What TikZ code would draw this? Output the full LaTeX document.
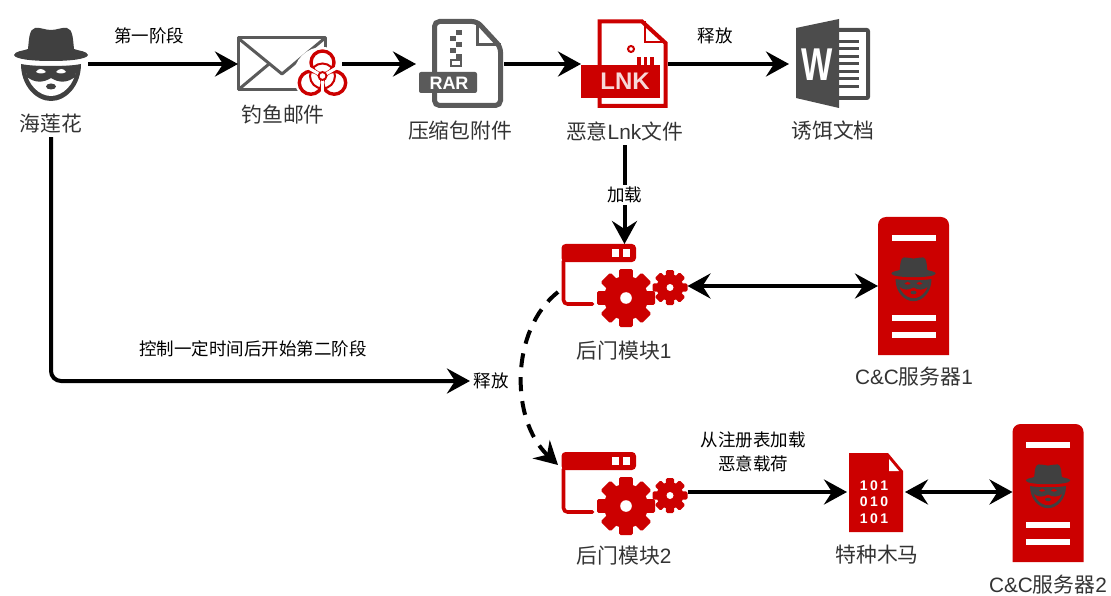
\documentclass[tikz,border=0pt]{standalone}
\usepackage{fontspec}
\usetikzlibrary{arrows.meta}
\setmainfont{Liberation Sans}
\newfontfamily\cjk{Noto Sans CJK SC}
\newfontfamily\codefont[LetterSpace=18]{Liberation Sans}
\definecolor{iconred}{HTML}{CC0000}
\definecolor{icongrey}{HTML}{5A5A5A}
\definecolor{spygrey}{HTML}{404040}
\definecolor{textgrey}{HTML}{333333}
\tikzset{
    tipbig/.tip={Stealth[length=23pt,width=25pt,inset=8pt]},
    flow/.style={line width=4pt,-tipbig},
    flowboth/.style={line width=4pt,tipbig-tipbig},
    iconbox/.style n args={2}{inner sep=0pt,outer sep=0pt,minimum width=#1,minimum height=#2},
    bigtext/.style={text=textgrey,font=\fontsize{20.8}{25}\selectfont\cjk},
    smalltext/.style={text=black,font=\fontsize{17.5}{24}\selectfont\cjk,align=center},
    pics/spyicon/.style={code={
        \fill[spygrey] (-37,-9) .. controls (-36,-13) and (-28,-13) .. (-23,-15) .. controls (-22,-24) and (-22,-35) .. (-16,-36) .. controls (-11,-37) and (-6,-34) .. (0,-34) .. controls (6,-34) and (11,-37) .. (16,-36) .. controls (22,-35) and (22,-24) .. (23,-15) .. controls (28,-13) and (36,-13) .. (37,-9) .. controls (36,-5) and (20,-3) .. (0,-3) .. controls (-20,-3) and (-36,-5) .. (-37,-9) -- cycle;
        \fill[spygrey] (-30,0) .. controls (-30,22) and (-15,37) .. (0,37) .. controls (15,37) and (30,22) .. (30,0) .. controls (15,3) and (-15,3) .. (-30,0) -- cycle;
        \fill[#1] (-25,5) .. controls (-24,20) and (-12,32) .. (0,32) .. controls (12,32) and (24,20) .. (25,5) -- cycle;
        \fill[spygrey] (-26,2) -- (26,2) -- (24,13) .. controls (16,19) and (8,19) .. (0,14) .. controls (-8,19) and (-16,19) .. (-24,13) -- cycle;
        \fill[#1] (-15,8) .. controls (-13,4) and (-8,4) .. (-5,8) .. controls (-8,10) and (-12,10) .. (-15,8) -- cycle;
        \fill[#1] (15,8) .. controls (13,4) and (8,4) .. (5,8) .. controls (8,10) and (12,10) .. (15,8) -- cycle;
        \fill[spygrey] (0,22.5) ellipse (5 and 3);
    }},
    pics/gearicon/.style={code={
        \foreach \a in {0,45,...,315}
            \fill[iconred,rotate=\a,rounded corners=1.5pt] (-0.24*#1,-#1) rectangle (0.24*#1,0);
        \fill[iconred] (0,0) circle (0.76*#1);
        \fill[white] (0,0) circle (0.2*#1);
    }},
    pics/dooricon/.style={code={
        \fill[iconred,rounded corners=4pt] (-63,-24) -- (-63,-42) -- (11.5,-42) -- (11.5,-24) -- cycle;
        \fill[white] (-13,-37) rectangle (-6,-29);
        \fill[white] (-2,-37) rectangle (5.5,-29);
        \draw[iconred,line width=3.6pt,rounded corners=4pt,line cap=round] (-61,-25) -- (-61,18) -- (-32,18);
        \pic at (1.5,12) {gearicon=29};
        \pic at (45.5,1.5) {gearicon=17.5};
    }},
    pics/servericon/.style={code={
        \fill[iconred,rounded corners=8pt] (-35.5,69) [sharp corners] -- (35.5,69) [rounded corners=8pt] -- (35.5,-69) -- (-35.5,-69) [sharp corners] -- (-35.5,69) -- cycle;
        \foreach \y in {-48,32,49}
            \fill[white] (-22,\y-3) rectangle (22,\y+3);
        \pic[scale=.6] at (0,-7) {spyicon=iconred};
    }},
}
\begin{document}
\begin{tikzpicture}[x=1pt,y=-1pt]
    \useasboundingbox (0,0) rectangle (1111,596);

    \node[iconbox={74pt}{74pt}] (hacker) at (51,64) {};
    \node[iconbox={104pt}{70pt}] (mail) at (290,64) {};
    \node[iconbox={88pt}{88pt}] (rar) at (460,64) {};
    \node[iconbox={87pt}{88pt}] (lnk) at (624.5,64) {};
    \node[iconbox={82pt}{88pt}] (word) at (830,64) {};
    \node[iconbox={126pt}{84pt}] (door1) at (624.5,286) {};
    \node[iconbox={126pt}{84pt}] (door2) at (624.5,492) {};
    \node[iconbox={71pt}{138pt}] (server1) at (913.5,286) {};
    \node[iconbox={71pt}{138pt}] (server2) at (1048,492) {};
    \node[iconbox={58pt}{80pt}] (trojan) at (876,492) {};

    \node[bigtext] (hackerlabel) at (51,124) {海莲花};
    \node[bigtext] (maillabel) at (283,115) {钓鱼邮件};
    \node[bigtext] (rarlabel) at (460,131) {压缩包附件};
    \node[bigtext] (lnklabel) at (624.5,132) {恶意{\fontspec{Liberation Sans}Lnk}文件};
    \node[bigtext] (wordlabel) at (833,131) {诱饵文档};
    \node[bigtext] (door1label) at (624,351) {后门模块{\fontspec{Liberation Sans}1}};
    \node[bigtext] (door2label) at (624,556) {后门模块{\fontspec{Liberation Sans}2}};
    \node[bigtext] (server1label) at (914,377) {{\fontspec{Liberation Sans}C\&C}服务器{\fontspec{Liberation Sans}1}};
    \node[bigtext] (server2label) at (1048,585) {{\fontspec{Liberation Sans}C\&C}服务器{\fontspec{Liberation Sans}2}};
    \node[bigtext] (trojanlabel) at (877,555) {特种木马};

    \pic at (hacker) {spyicon=white};

    \draw[icongrey,line width=3pt,line join=round] (238,38) rectangle (325,90);
    \draw[icongrey,line width=3pt,line join=round] (238,38) -- (282,74) -- (325,38);
    \draw[icongrey,line width=3pt] (238,90) -- (269,64);
    \fill[white] (322.5,76) circle (29);
    \foreach \a in {270,30,150}
        \draw[iconred,line width=3.4pt] (322.5,76) ++(\a:13.5) circle (11.5);
    \draw[iconred,line width=2pt] (322.5,76) circle (12.5);
    \foreach \a in {90,210,330}
        \draw[white,line width=3pt] (322.5,76) -- ++(\a:15);
    \fill[iconred] (322.5,76) circle (5);
    \fill[white] (322.5,76) circle (2.8);

    \draw[icongrey,line width=5pt,rounded corners=5pt] (434.5,72) -- (434.5,21.5) -- (477,21.5) -- (500.5,47) -- (500.5,105.5) -- (434.5,105.5) -- (434.5,92);
    \draw[icongrey,line width=3pt] (477,21.5) -- (477,45) -- (500.5,45);
    \foreach \y in {30,42,54}
        \fill[icongrey] (456,\y) rectangle (462,\y+5);
    \foreach \y in {36,48}
        \fill[icongrey] (450,\y) rectangle (456,\y+5);
    \draw[icongrey,line width=2pt] (451,60) rectangle (461,66);
    \fill[icongrey,rounded corners=2pt] (419,72) rectangle (477,93);
    \node[text=white,font=\fontsize{18}{18}\selectfont\bfseries] (rartext) at (449,83) {RAR};

    \draw[iconred,line width=4pt] (599.5,66) -- (599.5,21.5) -- (642,21.5) -- (665.5,43) -- (665.5,106) -- (599.5,106) -- (599.5,97);
    \draw[iconred,line width=2pt] (645,21.5) -- (645,42) -- (665.5,42);
    \draw[iconred,line width=2pt] (631,49) circle (3);
    \foreach \x in {637,643.5,650}
        \fill[iconred] (\x,57) rectangle (\x+3.5,66);
    \fill[iconred] (581,65) rectangle (660,98);
    \node[text=white!85!iconred,font=\fontsize{24}{24}\selectfont\bfseries] (lnktext) at (625,81.5) {LNK};

    \fill[icongrey!85!black,rounded corners=3pt] (835,28) rectangle (870,100);
    \fill[white] (839,32) rectangle (866,96);
    \foreach \y in {40,47.5,55,62.5,70,77.5,85}
        \fill[icongrey!85!black] (839,\y) rectangle (859,\y+3);
    \fill[icongrey!85!black] (796,28) -- (839,19) -- (839,108) -- (796,98) -- cycle;
    \node[transform shape,xscale=.72,text=white,font=\fontsize{46}{46}\selectfont\bfseries] (wordtext) at (817,65) {W};

    \pic at (door1) {dooricon};
    \pic at ([yshift=-2pt]door2) {dooricon};
    \pic at (server1) {servericon};
    \pic at ([yshift=-1pt]server2) {servericon};

    \fill[iconred] (849,453) -- (888,453) -- (903,471) -- (903,532) -- (849,532) -- cycle;
    \fill[white] (889,459) -- (889,471) -- (899,471) -- cycle;
    \node[text=white,align=center,font=\fontsize{14}{16.5}\selectfont\codefont\bfseries] (trojantext) at (874,502) {101\\010\\101};

    \node[smalltext] (phaseone) at (149,36) {第一阶段};
    \node[smalltext] (dropone) at (715,36) {释放};
    \node[smalltext] (phasetwo) at (253,349) {控制一定时间后开始第二阶段};
    \node[smalltext] (droptwo) at (491,381) {释放};
    \node[smalltext] (regload) at (753,452) {从注册表加载\\恶意载荷};

    \draw[flow] (hacker) -- (mail);
    \draw[flow] (mail) -- (rar);
    \draw[flow] (rar) -- (lnk);
    \draw[flow] (lnk) -- (word);
    \draw[flow] (lnklabel) -- node[smalltext,fill=white,inner sep=2pt] (loadone) {加载} (door1);
    \draw[flow,rounded corners=10pt] (hackerlabel) |- (droptwo);
    \draw[flowboth] (door1) -- (server1);
    \draw[flow] (door2) -- (trojan);
    \draw[flowboth] (trojan) -- (server2);
    \coordinate (dashstart) at (558,292);
    \coordinate (dashend) at (558,465);
    \draw[flow,dash pattern=on 14pt off 10pt] (dashstart) .. controls (510,330) and (510,420) .. (dashend);
\end{tikzpicture}
\end{document}
